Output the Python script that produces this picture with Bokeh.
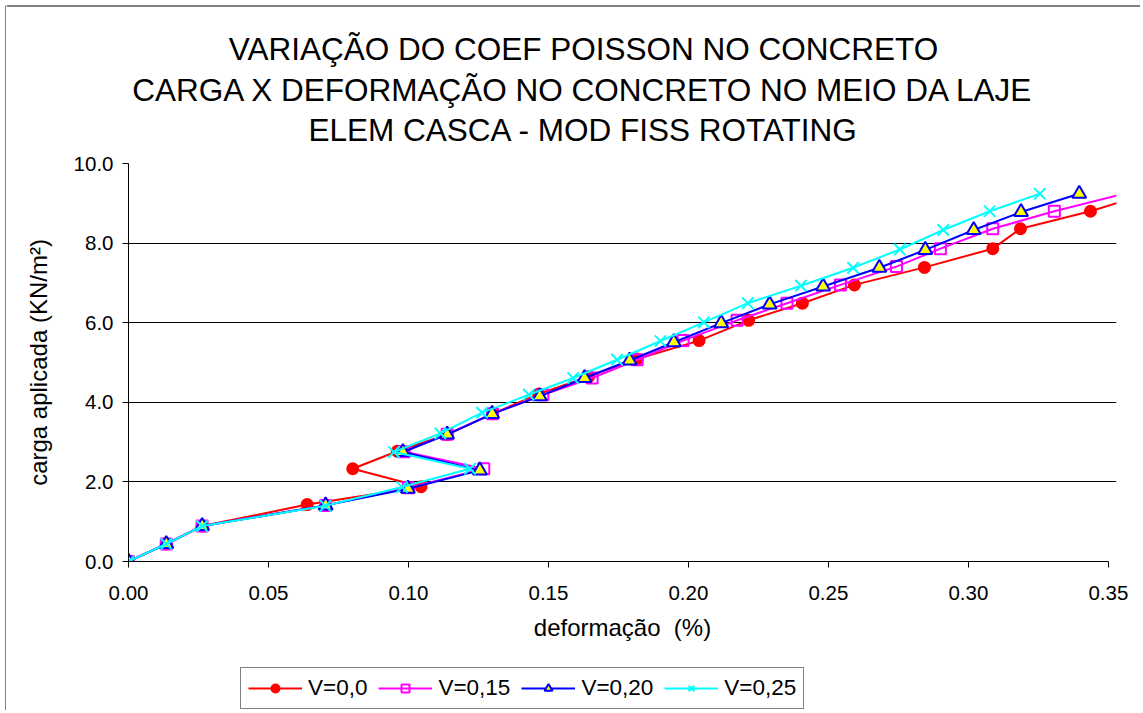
from bokeh.plotting import figure
from bokeh.layouts import column, row
from bokeh.models import (Range1d, NumeralTickFormatter, FixedTicker, Grid,
                          Legend, LegendItem)
from bokeh.core.properties import value
from bokeh.embed import file_html
from bokeh.resources import INLINE

# ---- data ----
title_lines = ["VARIAÇÃO DO COEF POISSON NO CONCRETO",
               "CARGA X DEFORMAÇÃO NO CONCRETO NO MEIO DA LAJE",
               "ELEM CASCA - MOD FISS ROTATING"]
x_label = "deformação\u00a0 (%)"
y_label = "carga aplicada (KN/m²)"
x_ticks = [0.0, 0.05, 0.10, 0.15, 0.20, 0.25, 0.30, 0.35]
y_ticks = [0.0, 2.0, 4.0, 6.0, 8.0, 10.0]

names = ["V=0,0", "V=0,15", "V=0,20", "V=0,25"]

x_v000 = [0, 0.0135, 0.0263, 0.0638, 0.1045, 0.0801, 0.0960, 0.1138, 0.1300, 0.1466, 0.1644,
          0.1817, 0.2038, 0.2215, 0.2407, 0.2593, 0.2843, 0.3087, 0.3186, 0.3436, 0.3640]
y_v000 = [0, 0.44, 0.89, 1.43, 1.88, 2.33, 2.77, 3.19, 3.71, 4.21, 4.65,
          5.09, 5.55, 6.06, 6.49, 6.95, 7.39, 7.86, 8.36, 8.80, 9.25]

x_v015 = [0, 0.0135, 0.0263, 0.0704, 0.1000, 0.1269, 0.0985, 0.1138, 0.1300, 0.1480, 0.1656,
          0.1817, 0.1981, 0.2174, 0.2352, 0.2543, 0.2743, 0.2900, 0.3087, 0.3307, 0.3560]
y_v015 = [0, 0.44, 0.89, 1.41, 1.85, 2.33, 2.76, 3.20, 3.71, 4.19, 4.61,
          5.07, 5.55, 6.06, 6.49, 6.95, 7.41, 7.86, 8.36, 8.80, 9.25]

x_v020 = [0, 0.0135, 0.0263, 0.0704, 0.0998, 0.1255, 0.0980, 0.1138, 0.1299, 0.1469, 0.1629,
          0.1790, 0.1948, 0.2117, 0.2290, 0.2481, 0.2682, 0.2846, 0.3019, 0.3188, 0.3396]
y_v020 = [0, 0.44, 0.89, 1.41, 1.83, 2.29, 2.75, 3.19, 3.71, 4.15, 4.61,
          5.05, 5.51, 5.99, 6.46, 6.91, 7.38, 7.83, 8.33, 8.78, 9.24]

x_v025 = [0, 0.0135, 0.0263, 0.0704, 0.0977, 0.1220, 0.0948, 0.1114, 0.1263, 0.1430, 0.1588,
          0.1745, 0.1900, 0.2055, 0.2212, 0.2402, 0.2588, 0.2755, 0.2910, 0.3076, 0.3255]
y_v025 = [0, 0.44, 0.89, 1.40, 1.87, 2.33, 2.75, 3.22, 3.74, 4.19, 4.61,
          5.07, 5.54, 6.01, 6.49, 6.93, 7.38, 7.84, 8.33, 8.80, 9.24]

FONT = "Liberation Sans"
STYLES = [
    dict(color="#ff0000", marker="circle", size=11, fill="#ff0000", lw=2),
    dict(color="#ff00ff", marker="square", size=11, fill=None, lw=2),
    dict(color="#0000ff", marker="triangle", size=14, fill="#ffff00", lw=2),
    dict(color="#00ffff", marker="x", size=16, fill=None, lw=2),
]
NAN = float("nan")


def bare(fig):
    fig.axis.visible = False
    fig.grid.visible = False
    fig.outline_line_color = None
    return fig


# ---- left border strip (chart-area frame, left edge) ----
left = bare(figure(width=6, height=710, output_backend="svg", toolbar_location=None,
                   x_range=Range1d(0, 6), y_range=Range1d(710, 0), min_border=0))
left.segment(x0=[5.5], y0=[5], x1=[5.5], y1=[710], line_color="black", line_width=1)

# ---- title strip (also carries the chart-area frame, top edge) ----
tfig = bare(figure(width=1134, height=150, output_backend="svg", toolbar_location=None,
                   x_range=Range1d(6, 1140), y_range=Range1d(150, 0), min_border=0))
tfig.segment(x0=[6], y0=[5.5], x1=[1140], y1=[5.5], line_color="black", line_width=1)
tfig.text(x=[583, 583, 583], y=[48, 89, 129], text=title_lines, text_align="center",
          text_baseline="middle", text_font=value(FONT), text_font_size="31.5px",
          text_color="black")

# ---- main plot ----
p = figure(width=1134, height=500, output_backend="svg", toolbar_location=None,
           x_range=Range1d(0, 0.3529), y_range=Range1d(0, 10),
           min_border_left=122, min_border_right=24, min_border_top=13,
           min_border_bottom=89, background_fill_color="white",
           border_fill_color="white")
p.outline_line_color = None
p.xgrid.visible = False
p.ygrid.visible = False

p.add_layout(Grid(dimension=1, ticker=FixedTicker(ticks=[2, 4, 6, 8]),
                  grid_line_color="black", grid_line_width=1, bounds=(0, 0.35)))
p.add_layout(Grid(dimension=1, ticker=FixedTicker(ticks=[10]),
                  grid_line_color="#dddddd", grid_line_width=1, bounds=(0, 0.35)))

for ax in (p.xaxis[0], p.yaxis[0]):
    ax.axis_line_color = "black"
    ax.major_tick_line_color = "black"
    ax.major_tick_out = 6
    ax.major_tick_in = 0
    ax.minor_tick_line_color = None
    ax.major_label_text_font = FONT
    ax.major_label_text_font_size = "20.5px"
    ax.major_label_text_color = "black"
    ax.axis_label_text_font = FONT
    ax.axis_label_text_font_size = "24px"
    ax.axis_label_text_font_style = "normal"
    ax.axis_label_text_color = "black"

p.xaxis.ticker = FixedTicker(ticks=x_ticks)
p.xaxis.formatter = NumeralTickFormatter(format="0.00")
p.xaxis.bounds = (0, 0.35)
p.xaxis.major_label_standoff = 18
p.xaxis.axis_label = x_label
p.xaxis.axis_label_standoff = 11

p.yaxis.ticker = FixedTicker(ticks=y_ticks)
p.yaxis.formatter = NumeralTickFormatter(format="0.0")
p.yaxis.major_label_standoff = 9
p.yaxis.axis_label = y_label
p.yaxis.axis_label_standoff = 19

series = [(x_v000, y_v000), (x_v015, y_v015), (x_v020, y_v020), (x_v025, y_v025)]
for (xs, ys), st in zip(series, STYLES):
    p.line(xs, ys, line_color=st["color"], line_width=st["lw"])
    p.scatter(xs, ys, marker=st["marker"], size=st["size"], fill_color=st["fill"],
              line_color=st["color"], line_width=2)

# ---- legend strip (legend proxies carry no visible data) ----
lfig = bare(figure(width=1134, height=60, output_backend="svg", toolbar_location=None,
                   x_range=Range1d(0, 1), y_range=Range1d(0, 1),
                   min_border_left=122, min_border_right=24, min_border_top=0,
                   min_border_bottom=0))
items = []
for name, st in zip(names, STYLES):
    rl = lfig.line([NAN], [NAN], line_color=st["color"], line_width=st["lw"])
    rm = lfig.scatter([NAN], [NAN], marker=st["marker"], size=st["size"],
                      fill_color=st["fill"], line_color=st["color"], line_width=2)
    items.append(LegendItem(label=name, renderers=[rl, rm]))
legend = Legend(items=items, orientation="horizontal", location=(112, 1),
                label_text_font=FONT, label_text_font_size="22.5px",
                label_text_color="black", glyph_width=54, glyph_height=20,
                label_standoff=6, spacing=11, padding=7, margin=0,
                border_line_color="black", border_line_width=1,
                background_fill_color="white", background_fill_alpha=1)
lfig.add_layout(legend, "center")

# the title strip sits in its own row so that its frame keeps its full width
layout = row(left, column(row(tfig), p, lfig))
open("out.html", "w").write(file_html(layout, INLINE))
